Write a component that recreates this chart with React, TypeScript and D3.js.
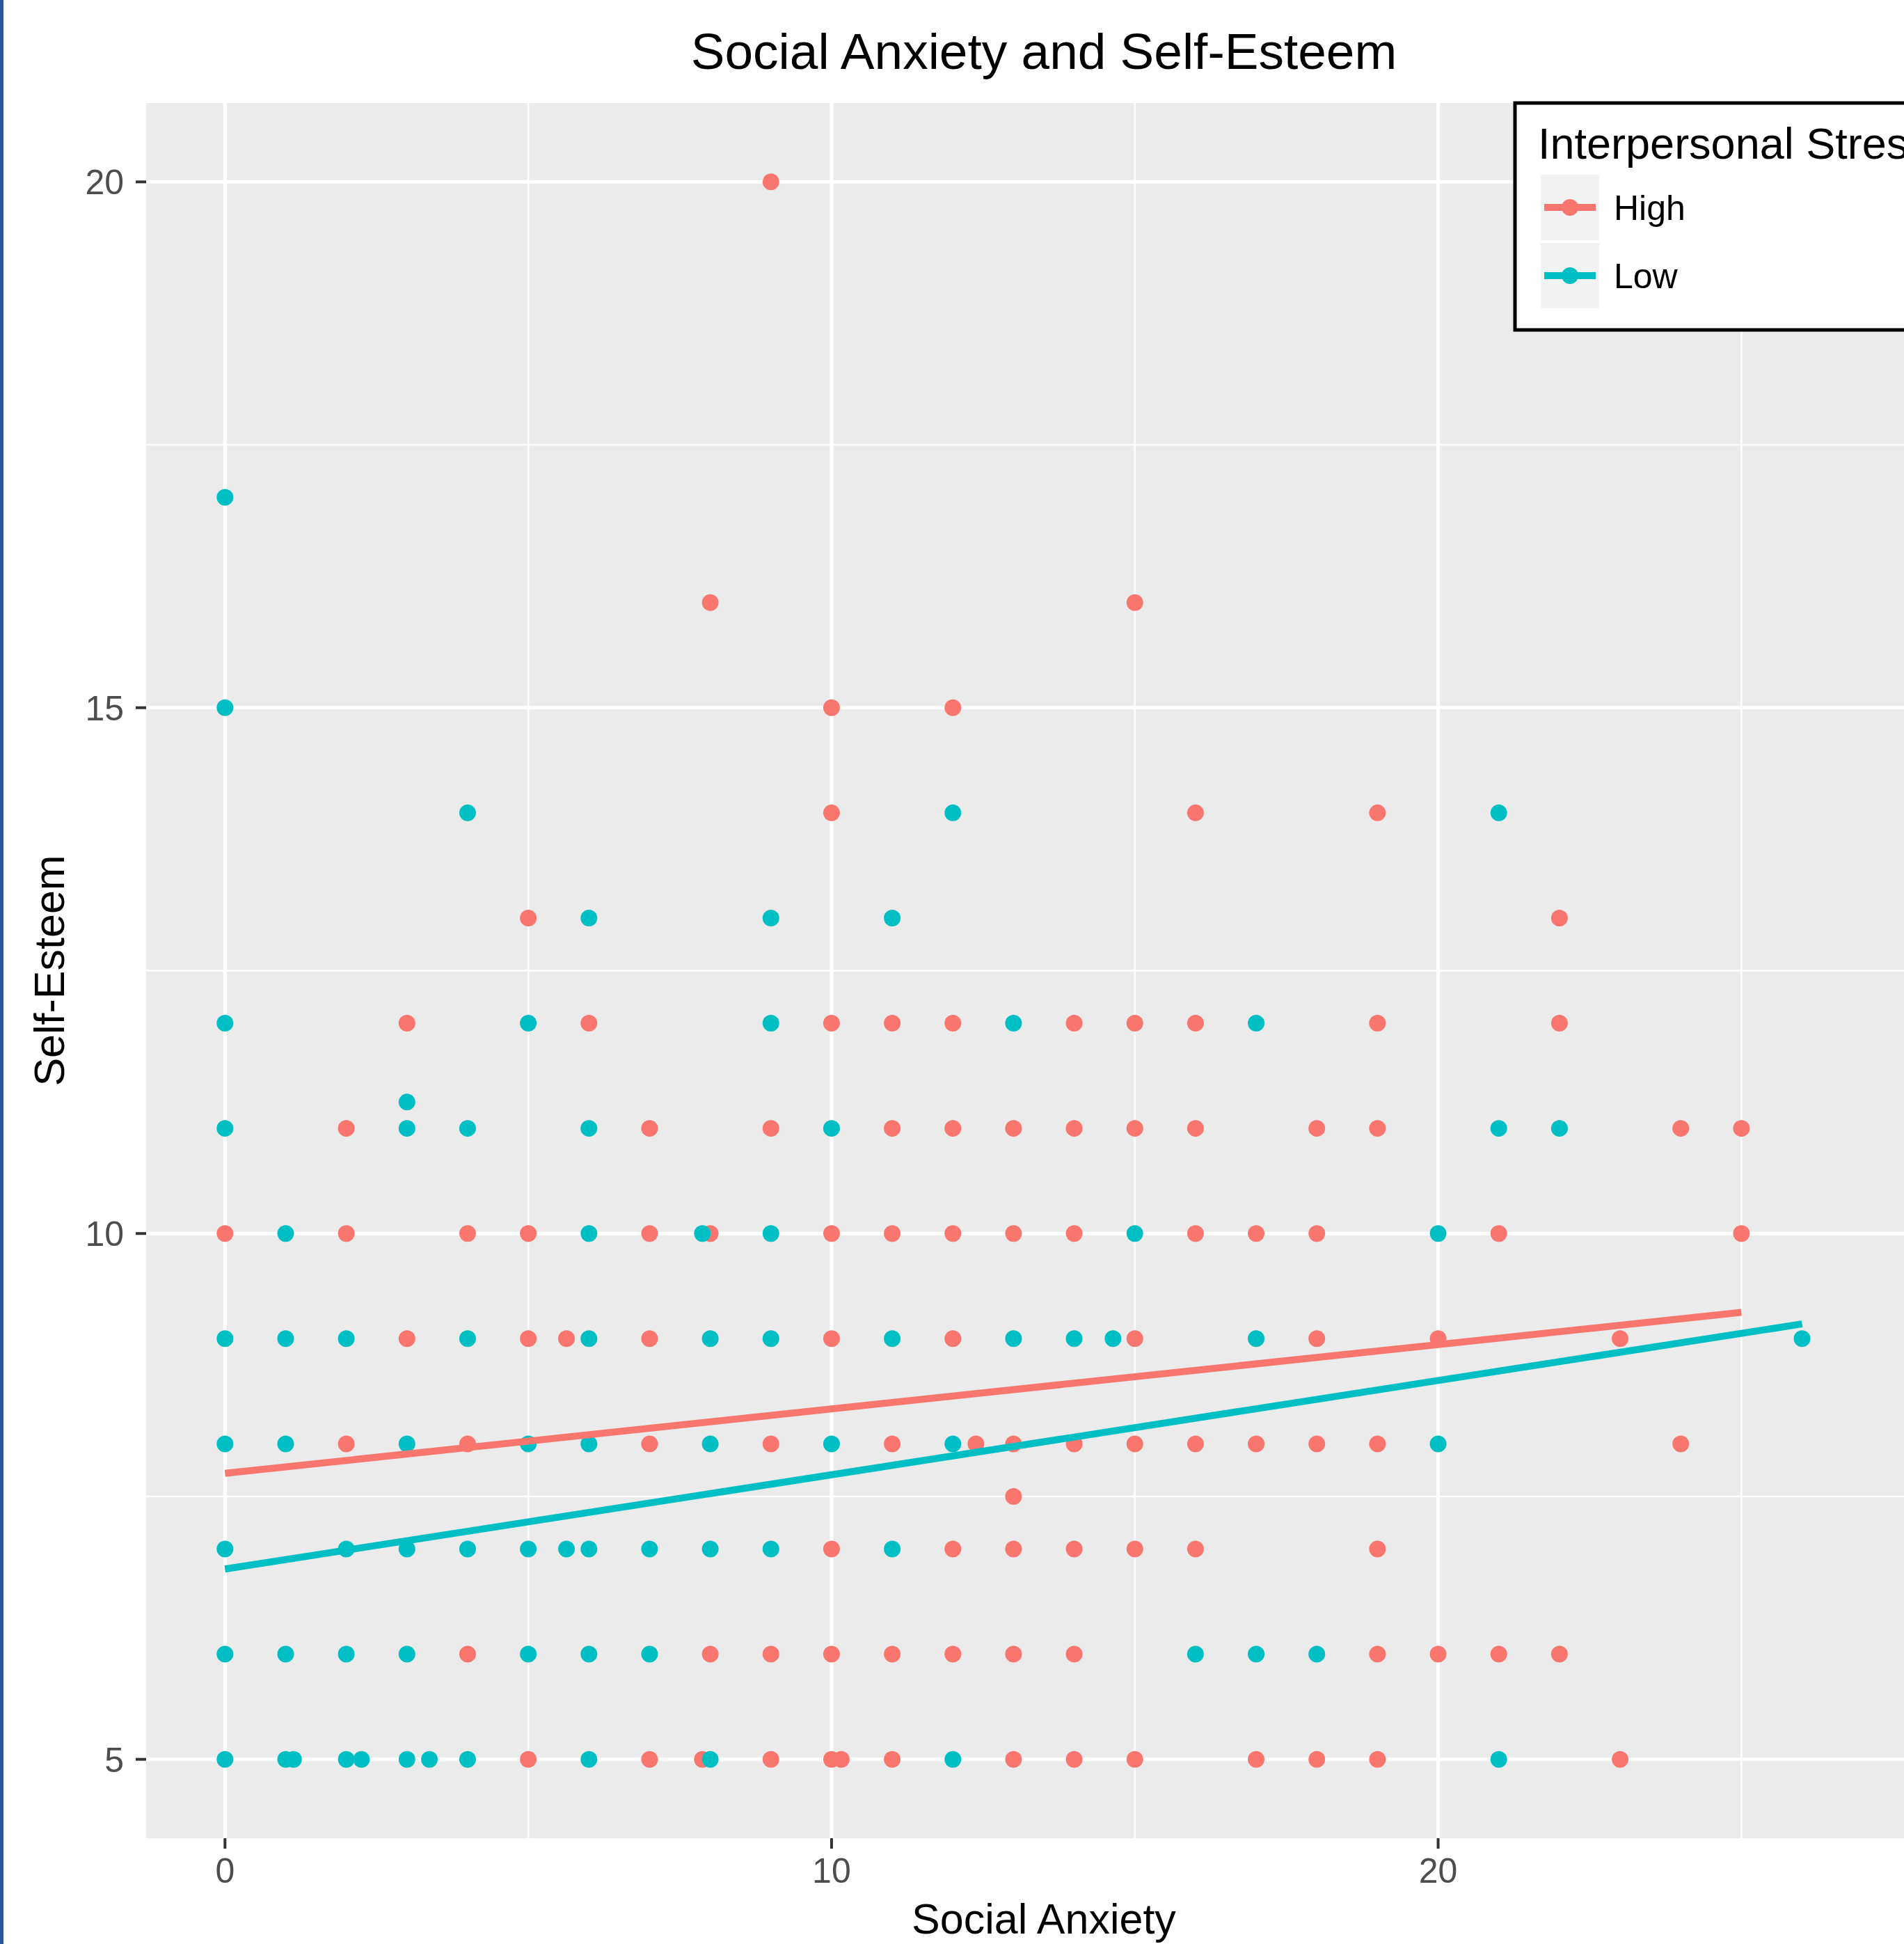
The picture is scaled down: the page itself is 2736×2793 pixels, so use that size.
import { useEffect } from 'react'
import * as d3 from 'd3'

const W = 2736
const H = 2793
const FONT = '"Liberation Sans", Arial, Helvetica, sans-serif'

const groups = ['High', 'Low']
const groupColors = ['#F8766D', '#00BFC4']

// each row: [self-esteem, social anxiety scores at that self-esteem]
const highRows: [number, number[]][] = [
    [20, [9]],
    [16, [8, 15]],
    [15, [10, 12]],
    [14, [10, 16, 19]],
    [13, [5, 22]],
    [12, [3, 6, 10, 11, 12, 14, 15, 16, 19, 22]],
    [11, [2, 7, 9, 11, 12, 13, 14, 15, 16, 18, 19, 24, 25]],
    [10, [0, 2, 4, 5, 7, 8, 10, 11, 12, 13, 14, 16, 17, 18, 21, 25]],
    [9, [3, 5, 5.63, 7, 10, 12, 15, 18, 20, 23]],
    [8, [2, 4, 7, 9, 11, 12.38, 13, 14, 15, 16, 17, 18, 19, 24]],
    [7.5, [13]],
    [7, [10, 12, 13, 14, 15, 16, 19]],
    [6, [4, 8, 9, 10, 11, 12, 13, 14, 19, 20, 21, 22]],
    [5, [5, 7, 7.87, 9, 10, 10.16, 11, 13, 14, 15, 17, 18, 19, 23]],
]

const lowRows: [number, number[]][] = [
    [17, [0]],
    [15, [0]],
    [14, [4, 12, 21]],
    [13, [6, 9, 11]],
    [12, [0, 5, 9, 13, 17]],
    [11.25, [3]],
    [11, [0, 3, 4, 6, 10, 21, 22]],
    [10, [1, 6, 7.87, 9, 15, 20]],
    [9, [0, 1, 2, 4, 6, 8, 9, 11, 13, 14, 14.64, 17, 26]],
    [8, [0, 1, 3, 5, 6, 8, 10, 12, 20]],
    [7, [0, 2, 3, 4, 5, 5.63, 6, 7, 8, 9, 11]],
    [6, [0, 1, 2, 3, 5, 6, 7, 16, 17, 18]],
    [5, [0, 1, 1.13, 2, 2.25, 3, 3.37, 4, 6, 8, 12, 21]],
]

// linear fits: [social anxiety, self-esteem]
const highFit: [number, number][] = [[0, 7.72], [25, 9.25]]
const lowFit: [number, number][] = [[0, 6.81], [26, 9.14]]

const xMajor = [0, 10, 20]
const xMinor = [5, 15, 25]
const yMajor = [5, 10, 15, 20]
const yMinor = [7.5, 12.5, 17.5]

const panel = { left: 210, top: 148, right: 2790, bottom: 2641 }

const x = d3.scaleLinear().domain([-1.3, 28.3]).range([panel.left, panel.right])
const y = d3.scaleLinear().domain([4.25, 20.75]).range([panel.bottom, panel.top])

const flatten = (rows: [number, number[]][]) =>
    rows.flatMap(([se, xs]) => xs.map(sa => [sa, se] as [number, number]))

const series = [flatten(highRows), flatten(lowRows)]
const fits = [highFit, lowFit]

const line = d3.line<[number, number]>()
    .x(d => x(d[0]))
    .y(d => y(d[1]))

const Grid = () => (
    <g>
        <rect x={panel.left} y={panel.top} width={panel.right - panel.left}
            height={panel.bottom - panel.top} fill="#EBEBEB" />
        {yMinor.map(v => <line key={'ym' + v} x1={panel.left} x2={panel.right}
            y1={y(v)} y2={y(v)} stroke="#fff" strokeWidth={2.5} />)}
        {xMinor.map(v => <line key={'xm' + v} y1={panel.top} y2={panel.bottom}
            x1={x(v)} x2={x(v)} stroke="#fff" strokeWidth={2.5} />)}
        {yMajor.map(v => <line key={'y' + v} x1={panel.left} x2={panel.right}
            y1={y(v)} y2={y(v)} stroke="#fff" strokeWidth={5} />)}
        {xMajor.map(v => <line key={'x' + v} y1={panel.top} y2={panel.bottom}
            x1={x(v)} x2={x(v)} stroke="#fff" strokeWidth={5} />)}
    </g>
)

const Axes = () => (
    <g fontFamily={FONT}>
        {yMajor.map(v => (
            <g key={'yt' + v}>
                <line x1={panel.left - 15} x2={panel.left} y1={y(v)} y2={y(v)}
                    stroke="#333" strokeWidth={4} />
                <text x={178} y={y(v)} dy="0.36em" textAnchor="end"
                    fontSize={50} fill="#4D4D4D">{v}</text>
            </g>
        ))}
        {xMajor.map(v => (
            <g key={'xt' + v}>
                <line x1={x(v)} x2={x(v)} y1={panel.bottom} y2={panel.bottom + 15}
                    stroke="#333" strokeWidth={4} />
                <text x={x(v)} y={2705} textAnchor="middle"
                    fontSize={50} fill="#4D4D4D">{v}</text>
            </g>
        ))}
        <text x={1500} y={2778} textAnchor="middle" fontSize={61} fill="#000">Social Anxiety</text>
        <text transform={`translate(92, ${(panel.top + panel.bottom) / 2}) rotate(-90)`}
            textAnchor="middle" fontSize={61} fill="#000">Self-Esteem</text>
        <text x={1500} y={99} textAnchor="middle" fontSize={73} fill="#000">
            Social Anxiety and Self-Esteem
        </text>
    </g>
)

const Legend = () => {
    const keyTop = [251, 349]
    return (
        <g fontFamily={FONT}>
            <rect x={2177} y={148} width={700} height={326} fill="#fff"
                stroke="#000" strokeWidth={5} />
            <text x={2210} y={228} fontSize={63} fill="#000">Interpersonal Stress</text>
            {groups.map((g, i) => (
                <g key={g}>
                    <rect x={2214} y={keyTop[i]} width={84} height={94} fill="#F2F2F2" />
                    <line x1={2219} x2={2293} y1={keyTop[i] + 47} y2={keyTop[i] + 47}
                        stroke={groupColors[i]} strokeWidth={10} />
                    <circle cx={2256} cy={keyTop[i] + 47} r={12} fill={groupColors[i]} />
                    <text x={2319} y={keyTop[i] + 47} dy="0.36em" fontSize={50} fill="#000">{g}</text>
                </g>
            ))}
        </g>
    )
}

export default function App() {
    useEffect(() => {
        document.body.style.margin = '0'
    }, [])

    return (
        <svg width={W} height={H} style={{ display: 'block', background: '#fff' }}>
            <defs>
                <clipPath id="panel-clip">
                    <rect x={panel.left} y={panel.top} width={panel.right - panel.left}
                        height={panel.bottom - panel.top} />
                </clipPath>
            </defs>
            <Grid />
            <g clipPath="url(#panel-clip)">
                {series.map((pts, i) => (
                    <g key={groups[i]} fill={groupColors[i]}>
                        {pts.map((p, j) => <circle key={j} cx={x(p[0])} cy={y(p[1])} r={12} />)}
                    </g>
                ))}
                {fits.map((f, i) => (
                    <path key={'fit' + i} d={line(f) || ''} fill="none"
                        stroke={groupColors[i]} strokeWidth={10} />
                ))}
            </g>
            <Axes />
            <Legend />
            <rect x={0} y={0} width={5} height={H} fill="#2F5597" />
        </svg>
    )
}
